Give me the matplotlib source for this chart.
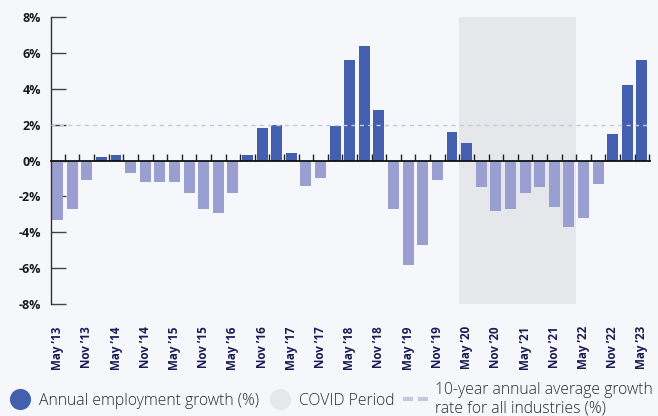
import matplotlib
matplotlib.use("Agg")
import matplotlib.pyplot as plt
from matplotlib.lines import Line2D
import numpy as np

plt.rcParams["font.family"] = ["Open Sans", "DejaVu Sans"]

# Quarterly periods, May '13 through May '23
quarters = []
for year in range(2013, 2024):
    for month in ["Feb", "May", "Aug", "Nov"]:
        quarters.append(f"{month} \u2019{year % 100:02d}")
quarters = quarters[1:-2]

# Annual employment growth (%) for each quarter
growth = [-3.3, -2.7, -1.1, 0.2, 0.3, -0.7, -1.2, -1.2, -1.2, -1.8,
          -2.7, -2.9, -1.8, 0.3, 1.8, 2.0, 0.4, -1.4, -1.0, 1.9,
          5.6, 6.4, 2.8, -2.7, -5.8, -4.7, -1.1, 1.6, 1.0, -1.5,
          -2.8, -2.7, -1.8, -1.5, -2.6, -3.7, -3.2, -1.3, 1.5, 4.2,
          5.6]

avg_growth = 2.0               # 10-year annual average, all industries
covid_start, covid_end = "May \u201920", "Feb \u201922"

yticks = list(range(-8, 9, 2))
legend_labels = ["Annual employment growth (%)", "COVID Period",
                 "10-year annual average growth\nrate for all industries (%)"]

bg = "#f5f7fb"
pos_color = "#445fad"
neg_color = "#99a0d1"
covid_color = "#e6e7ea"
avg_color = "#c6c9dd"

fig = plt.figure(figsize=(6.58, 4.16), dpi=100, facecolor=bg)
ax = fig.add_axes([0.0775, 0.2692, 0.9103, 0.6899])
ax.set_facecolor(bg)

x = np.arange(len(quarters))
colors = [pos_color if v >= 0 else neg_color for v in growth]
ax.bar(x, growth, width=0.75, color=colors, zorder=2)

ax.axvspan(quarters.index(covid_start) - 0.5, quarters.index(covid_end) + 0.5,
           color=covid_color, lw=0, zorder=0)
ax.axhline(avg_growth, color=avg_color, lw=1.0, dashes=(3, 3), zorder=3)

ax.set_xlim(-0.45, len(quarters) - 0.45)
ax.set_ylim(yticks[0], yticks[-1])

for side in ("top", "right"):
    ax.spines[side].set_visible(False)
ax.spines["left"].set_color("#333333")
ax.spines["left"].set_linewidth(1.0)
ax.spines["bottom"].set_position(("data", 0))
ax.spines["bottom"].set_color("#111111")
ax.spines["bottom"].set_linewidth(1.3)
ax.spines["bottom"].set_zorder(4)

ax.set_yticks(yticks, labels=[f"{v}%" for v in yticks])
ax.tick_params(axis="y", direction="in", length=10.8, width=1.0,
               color="#444444", pad=7, labelsize=9, labelcolor="#1a1a1a")
for t in ax.get_yticklabels():
    t.set_fontweight("bold")

ax.set_xticks([])
ax.set_xticks(x + 0.5, minor=True)
ax.tick_params(axis="x", which="minor", direction="in", length=5,
               width=1.0, color="#222222")

sec = ax.secondary_xaxis("bottom")
sec.spines["bottom"].set_visible(False)
sec.set_xticks(x[::2], labels=quarters[::2])
sec.tick_params(length=0, pad=16, labelsize=8.4, labelcolor="#1c1a55")
for t in sec.get_xticklabels():
    t.set_rotation(90)
    t.set_fontweight("bold")

handles = [
    Line2D([], [], ls="none", marker="o", ms=15.2, mfc=pos_color, mec="none"),
    Line2D([], [], ls="none", marker="o", ms=15.2, mfc=covid_color, mec="none"),
    Line2D([], [], color=avg_color, lw=3, dashes=(2.4, 1.2)),
]
fig.legend(handles, legend_labels, loc="center left",
           bbox_to_anchor=(0.012, 0.041), ncol=3, frameon=False,
           handlelength=1.6, handletextpad=0.4, columnspacing=0.55,
           borderpad=0, borderaxespad=0,
           prop=dict(family=["Open Sans", "DejaVu Sans"], size=11.3,
                     weight="light"),
           labelcolor="#2a2a2a")

fig.savefig("out.png", dpi=100, facecolor=bg)
